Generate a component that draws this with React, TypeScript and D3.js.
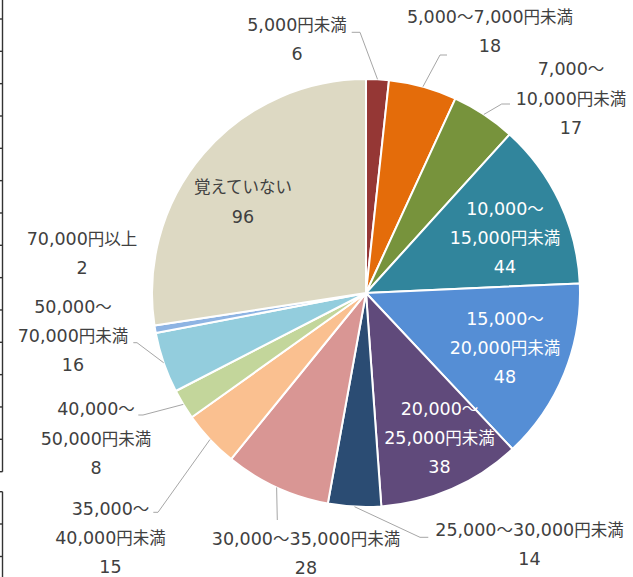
import React from "react";
import * as d3 from "d3";

const categories: string[][] = [
  ["5,000円未満"],
  ["5,000～7,000円未満"],
  ["7,000～", "10,000円未満"],
  ["10,000～", "15,000円未満"],
  ["15,000～", "20,000円未満"],
  ["20,000～", "25,000円未満"],
  ["25,000～30,000円未満"],
  ["30,000～35,000円未満"],
  ["35,000～", "40,000円未満"],
  ["40,000～", "50,000円未満"],
  ["50,000～", "70,000円未満"],
  ["70,000円以上"],
  ["覚えていない"],
];
const values: number[] = [6, 18, 17, 44, 48, 38, 14, 28, 15, 8, 16, 2, 96];
const colors: string[] = [
  "#953735", "#E46C0A", "#77933C", "#31859C", "#558ED5", "#604A7B", "#2B4C73",
  "#D99694", "#FAC090", "#C3D69B", "#93CDDD", "#8EB4E3", "#DDD9C3",
];

const labelLayout: { x: number; y: number; elbow?: [number, number]; end?: [number, number]; white?: boolean }[] = [
  { x: 297, y: 25, elbow: [360, 32.3], end: [351.7, 32.3] },
  { x: 490, y: 17, elbow: [440, 55], end: [447, 55] },
  { x: 571, y: 69.3, elbow: [501.7, 104], end: [510, 104] },
  { x: 505, y: 208.5, white: true },
  { x: 505, y: 318.5, white: true },
  { x: 439.5, y: 408.5, white: true },
  { x: 529.5, y: 530, elbow: [420, 537.3], end: [428.3, 537.3] },
  { x: 306, y: 538.5, elbow: [277.3, 520], end: [277.3, 520] },
  { x: 110.5, y: 508.5, elbow: [158, 512.3], end: [153.3, 512.3] },
  { x: 96, y: 409.3, elbow: [143, 415], end: [138.3, 415] },
  { x: 73, y: 306.5, elbow: [137, 342.7], end: [133.3, 342.7] },
  { x: 82, y: 238.5 },
  { x: 243, y: 187.3 },
];

const tickIdxA = d3.range(14);
const tickIdxB = d3.range(2);

const W = 633;
const H = 577;
const cx = 366;
const cy = 293;
const R = 214;
const lineH = 29.4;
const font = "'DejaVu Sans', 'Noto Sans CJK JP', sans-serif";

function runs(s: string): { t: string; num: boolean }[] {
  const out: { t: string; num: boolean }[] = [];
  const re = /[0-9,]+|[^0-9,]+/g;
  let m: RegExpExecArray | null;
  while ((m = re.exec(s))) out.push({ t: m[0], num: /[0-9]/.test(m[0]) });
  return out;
}

export default function App() {
  const pie = d3.pie<number>().sort(null).value((d) => d);
  const arcs = pie(values);
  const arcGen = d3.arc<d3.PieArcDatum<number>>().innerRadius(0).outerRadius(R);
  const yA = d3.scaleLinear().domain([0, 13]).range([19, 439.3]);
  const yB = d3.scaleLinear().domain([0, 1]).range([524, 556.5]);

  return (
    <svg width={W} height={H} style={{ position: "absolute", left: 0, top: 0 }} fontFamily={font}>
      <rect width={W} height={H} fill="#fff" />
      <g stroke="#333" strokeWidth={1.4} fill="none">
        <line x1={2.5} x2={2.5} y1={0} y2={471.7} />
        {tickIdxA.map((i) => (
          <line key={"a" + i} x1={0} x2={2.5} y1={yA(i)} y2={yA(i)} />
        ))}
        <line x1={0} x2={2.5} y1={471.7} y2={471.7} />
        <line x1={2.5} x2={2.5} y1={491.7} y2={H} />
        <line x1={0} x2={2.5} y1={491.7} y2={491.7} />
        {tickIdxB.map((i) => (
          <line key={"b" + i} x1={0} x2={2.5} y1={yB(i)} y2={yB(i)} />
        ))}
      </g>
      <g transform={`translate(${cx},${cy})`}>
        {arcs.map((a, i) => (
          <path key={i} d={arcGen(a) || ""} fill={colors[i]} stroke="#fff" strokeWidth={2} strokeLinejoin="round" />
        ))}
      </g>
      {arcs.map((a, i) => {
        const L = labelLayout[i];
        if (!L.elbow || !L.end) return null;
        const mid = (a.startAngle + a.endAngle) / 2;
        const px = cx + R * Math.sin(mid);
        const py = cy - R * Math.cos(mid);
        return (
          <polyline
            key={"l" + i}
            points={`${px},${py} ${L.elbow[0]},${L.elbow[1]} ${L.end[0]},${L.end[1]}`}
            fill="none"
            stroke="#A6A6A6"
            strokeWidth={1}
          />
        );
      })}
      {categories.map((lines, i) => {
        const L = labelLayout[i];
        const all = [...lines, String(values[i])];
        return (
          <g key={"t" + i} fill={L.white ? "#FFFFFF" : "#404040"}>
            {all.map((s, j) => (
              <text key={j} x={L.x} y={L.y + j * lineH} textAnchor="middle" dominantBaseline="central">
                {runs(s).map((r, k) => (
                  <tspan key={k} fontSize={r.num ? 17.5 : 16.5}>
                    {r.t}
                  </tspan>
                ))}
              </text>
            ))}
          </g>
        );
      })}
    </svg>
  );
}
